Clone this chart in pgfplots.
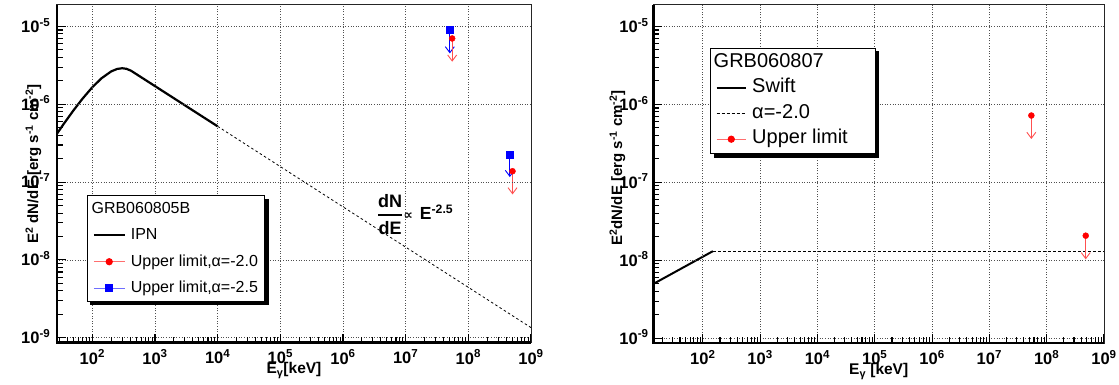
\documentclass[border=0pt]{standalone}
\usepackage{fontspec}
\setmainfont{Liberation Sans}
\newfontfamily\dejavu{DejaVu Sans}
\usepackage{pgfplots}
\pgfplotsset{compat=1.18}
\usetikzlibrary{arrows.meta,calc}

\definecolor{lred}{RGB}{255,80,80}
\definecolor{legred}{RGB}{255,110,110}
\definecolor{legblue}{RGB}{110,110,255}
\definecolor{gridc}{RGB}{80,80,80}

\tikzset{ularrow/.style={line width=0.9pt, -{Straight Barb[length=6pt,width=9pt]}}}

\begin{document}
\begin{tikzpicture}
\path[use as bounding box] (0,0) rectangle (1119pt,385pt);

% ---------------- left panel ----------------
\begin{axis}[name=L,
  scale only axis, xmode=log, ymode=log,
  ymin=8.7e-10, ymax=1.9e-5, xmin=27, xmax=1e9,
  at={(56.7pt,42.5pt)}, anchor=south west,
  width=474.3pt, height=337.8pt,
  axis on top,
  axis line style={line width=1pt, black!85},
  ticks=both,
  xmajorticks=true, ymajorticks=true, xminorticks=true, yminorticks=true,
  tick align=inside, xtick pos=bottom, ytick pos=left,
  major tick length=9pt, minor tick length=6pt,
  major tick style={black, solid, line width=1.1pt},
  minor tick style={black, solid, line width=1.1pt},
  grid=major,
  major grid style={gridc, line width=0.8pt, dash pattern=on 1pt off 1.6pt},
  xtick={1e2,1e3,1e4,1e5,1e6,1e7,1e8,1e9},
  minor xtick={30,40,50,60,70,80,90,200,300,400,500,600,700,800,900,
    2e3,3e3,4e3,5e3,6e3,7e3,8e3,9e3,2e4,3e4,4e4,5e4,6e4,7e4,8e4,9e4,
    2e5,3e5,4e5,5e5,6e5,7e5,8e5,9e5,2e6,3e6,4e6,5e6,6e6,7e6,8e6,9e6,
    2e7,3e7,4e7,5e7,6e7,7e7,8e7,9e7,2e8,3e8,4e8,5e8,6e8,7e8,8e8,9e8},
  xticklabels={10\textsuperscript{2},10\textsuperscript{3},10\textsuperscript{4},10\textsuperscript{5},10\textsuperscript{6},10\textsuperscript{7},10\textsuperscript{8},10\textsuperscript{9}},
  ytick={1e-9,1e-8,1e-7,1e-6,1e-5},
  minor ytick={2e-9,3e-9,4e-9,5e-9,6e-9,7e-9,8e-9,9e-9,2e-8,3e-8,4e-8,5e-8,6e-8,7e-8,8e-8,9e-8,
    2e-7,3e-7,4e-7,5e-7,6e-7,7e-7,8e-7,9e-7,2e-6,3e-6,4e-6,5e-6,6e-6,7e-6,8e-6,9e-6},
  yticklabels={10\textsuperscript{-9},10\textsuperscript{-8},10\textsuperscript{-7},10\textsuperscript{-6},10\textsuperscript{-5}},
  ticklabel style={font=\bfseries\fontsize{16.5}{17}\selectfont, inner sep=0pt},
  xticklabel style={anchor=north, yshift=-7pt},
  yticklabel style={anchor=base east, yshift=-5.9pt, xshift=-6.2pt},
  legend cell align=left,
  legend style={name=legL, at={(0.0637,0.4366)}, anchor=north west, draw=black, line width=0.9pt,
    fill=white, inner xsep=5.5pt, inner ysep=0pt, column sep=3.8pt, row sep=0pt,
    nodes={inner sep=1.5pt, text height=16.45pt, text depth=7.05pt}, font=\fontsize{16}{19}\selectfont},
  legend image code/.code={\path[draw=none,fill=none] (0pt,-11.75pt) rectangle (30.7pt,11.75pt);
    \draw[mark repeat=2,mark phase=2,#1] plot coordinates {(0pt,0pt) (15.35pt,0pt) (30.7pt,0pt)};},
]
% IPN spectrum
\addplot[black, line width=2.2pt, forget plot] coordinates {
  (27,4.14e-7) (35,5.60e-7) (50,8.34e-7) (70,1.184e-6) (100,1.654e-6)
  (140,2.155e-6) (200,2.642e-6) (250,2.845e-6) (300,2.90e-6) (350,2.854e-6)
  (415,2.694e-6) (1000,1.71e-6) (3000,9.69e-7) (10000,5.2e-7)};
% extrapolation
\addplot[black, line width=0.8pt, dash pattern=on 2.5pt off 2.5pt, forget plot] coordinates {
  (1e4,5.2e-7) (1e9,1.352e-9)};
% upper limits
\addplot[blue, ularrow, forget plot] coordinates {(5.07e7,9.0e-6) (5.07e7,4.5e-6)};
\addplot[lred, ularrow, forget plot] coordinates {(5.52e7,7.0e-6) (5.52e7,3.52e-6)};
\addplot[blue, ularrow, forget plot] coordinates {(4.59e8,2.24e-7) (4.59e8,1.16e-7)};
\addplot[lred, ularrow, forget plot] coordinates {(5.07e8,1.38e-7) (5.07e8,6.95e-8)};
\addplot[only marks, mark=square*, mark size=3.3pt, blue, forget plot] coordinates {(5.07e7,9.0e-6) (4.59e8,2.24e-7)};
\addplot[only marks, mark=*, mark size=3pt, red, forget plot] coordinates {(5.52e7,7.0e-6) (5.07e8,1.38e-7)};

\node[anchor=west, inner sep=0pt, font=\bfseries\fontsize{18}{20}\selectfont] at (axis cs:3.44e6,3.82e-8)
  {$\displaystyle{\mbox{dN}\above1.8pt\mbox{dE}}$\hspace{0.5pt}{\dejavu\bfseries\fontsize{13}{14}\selectfont ∝}\hspace{7pt}{\fontsize{17.5}{19}\selectfont E\textsuperscript{-2.5}}};

\addlegendimage{legend image code/.code={\path[draw=none,fill=none] (0pt,-11.75pt) rectangle (30.7pt,11.75pt);}}
\addlegendentry{\hspace*{-39.3pt}GRB060805B}
\addlegendimage{black, line width=2pt}
\addlegendentry{IPN}
\addlegendimage{legred, line width=1.2pt, mark=*, mark size=3pt, mark options={fill=red, draw=red}}
\addlegendentry{Upper limit,α=-2.0}
\addlegendimage{legblue, line width=1.2pt, mark=square*, mark size=3.3pt, mark options={fill=blue, draw=blue}}
\addlegendentry{Upper limit,α=-2.5}
\end{axis}
\draw[line width=2.4pt, black] (L.north west) -- (L.south west) -- (L.south east);
\fill[black] ($(legL.north east)+(0,-3.5pt)$) rectangle ($(legL.south east)+(3.5pt,-3.5pt)$);
\fill[black] ($(legL.south west)+(3.5pt,0)$) rectangle ($(legL.south east)+(3.5pt,-3.5pt)$);

% ---------------- right panel ----------------
\begin{axis}[name=R,
  scale only axis, xmode=log, ymode=log,
  ymin=8.7e-10, ymax=1.9e-5, xmin=13.7, xmax=1e9,
  at={(653.3pt,42pt)}, anchor=south west,
  width=450.7pt, height=338.3pt,
  axis on top,
  axis line style={line width=1pt, black!85},
  ticks=both,
  xmajorticks=true, ymajorticks=true, xminorticks=true, yminorticks=true,
  tick align=inside, xtick pos=bottom, ytick pos=left,
  major tick length=9pt, minor tick length=6pt,
  major tick style={black, solid, line width=1.1pt},
  minor tick style={black, solid, line width=1.1pt},
  grid=major,
  major grid style={gridc, line width=0.8pt, dash pattern=on 1pt off 1.6pt},
  xtick={1e2,1e3,1e4,1e5,1e6,1e7,1e8,1e9},
  minor xtick={20,30,40,50,60,70,80,90,200,300,400,500,600,700,800,900,
    2e3,3e3,4e3,5e3,6e3,7e3,8e3,9e3,2e4,3e4,4e4,5e4,6e4,7e4,8e4,9e4,
    2e5,3e5,4e5,5e5,6e5,7e5,8e5,9e5,2e6,3e6,4e6,5e6,6e6,7e6,8e6,9e6,
    2e7,3e7,4e7,5e7,6e7,7e7,8e7,9e7,2e8,3e8,4e8,5e8,6e8,7e8,8e8,9e8},
  xticklabels={10\textsuperscript{2},10\textsuperscript{3},10\textsuperscript{4},10\textsuperscript{5},10\textsuperscript{6},10\textsuperscript{7},10\textsuperscript{8},10\textsuperscript{9}},
  ytick={1e-9,1e-8,1e-7,1e-6,1e-5},
  minor ytick={2e-9,3e-9,4e-9,5e-9,6e-9,7e-9,8e-9,9e-9,2e-8,3e-8,4e-8,5e-8,6e-8,7e-8,8e-8,9e-8,
    2e-7,3e-7,4e-7,5e-7,6e-7,7e-7,8e-7,9e-7,2e-6,3e-6,4e-6,5e-6,6e-6,7e-6,8e-6,9e-6},
  yticklabels={10\textsuperscript{-9},10\textsuperscript{-8},10\textsuperscript{-7},10\textsuperscript{-6},10\textsuperscript{-5}},
  ticklabel style={font=\bfseries\fontsize{16.5}{17}\selectfont, inner sep=0pt},
  xticklabel style={anchor=north, yshift=-7pt},
  yticklabel style={anchor=base east, yshift=-5.9pt, xshift=-4.5pt},
  legend cell align=left,
  legend style={name=legR, at={(0.1262,0.8729)}, anchor=north west, draw=black, line width=0.9pt,
    fill=white, inner xsep=5pt, inner ysep=1.8pt, column sep=4.3pt, row sep=0pt,
    nodes={inner sep=1pt, text height=16.45pt, text depth=7.05pt}, font=\fontsize{20}{23}\selectfont},
  legend image code/.code={\path[draw=none,fill=none] (0pt,-11.75pt) rectangle (29.3pt,11.75pt);
    \draw[mark repeat=2,mark phase=2,#1] plot coordinates {(0pt,0pt) (14.65pt,0pt) (29.3pt,0pt)};},
]
\addplot[black, line width=2pt, forget plot] coordinates {(13.7,4.98e-9) (150,1.31e-8)};
\addplot[black, line width=1.1pt, dash pattern=on 3pt off 2pt, forget plot] coordinates {(150,1.31e-8) (1e9,1.31e-8)};
\addplot[lred, ularrow, forget plot] coordinates {(5.4e7,7.2e-7) (5.4e7,3.6e-7)};
\addplot[lred, ularrow, forget plot] coordinates {(4.8e8,2.07e-8) (4.8e8,1.03e-8)};
\addplot[only marks, mark=*, mark size=3pt, red, forget plot] coordinates {(5.4e7,7.2e-7) (4.8e8,2.07e-8)};

\addlegendimage{legend image code/.code={\path[draw=none,fill=none] (0pt,-11.75pt) rectangle (29.3pt,11.75pt);}}
\addlegendentry{\hspace*{-38.5pt}GRB060807}
\addlegendimage{black, line width=2pt}
\addlegendentry{Swift}
\addlegendimage{black, line width=1.1pt, dash pattern=on 3pt off 2pt}
\addlegendentry{α=-2.0}
\addlegendimage{legred, line width=1.2pt, mark=*, mark size=3pt, mark options={fill=red, draw=red}}
\addlegendentry{\makebox[116.8pt][l]{Upper limit}}
\end{axis}
\draw[line width=2.4pt, black] (R.north west) -- (R.south west) -- (R.south east);
\fill[black] ($(legR.north east)+(0,-3.5pt)$) rectangle ($(legR.south east)+(3.5pt,-3.5pt)$);
\fill[black] ($(legR.south west)+(3.5pt,0)$) rectangle ($(legR.south east)+(3.5pt,-3.5pt)$);

% ---------------- axis titles ----------------
\node[rotate=90, anchor=base, inner sep=0pt, font=\bfseries\fontsize{15}{16}\selectfont] at (38pt,221pt)
  {E\textsuperscript{2} dN/dE [erg s\textsuperscript{-1} cm\textsuperscript{-2}]};
\node[rotate=90, anchor=base, inner sep=0pt, font=\bfseries\fontsize{15}{16}\selectfont] at (622pt,217pt)
  {E\textsuperscript{2}dN/dE [erg s\textsuperscript{-1} cm\textsuperscript{-2}]};
\node[anchor=base, inner sep=0pt, font=\bfseries\fontsize{15.5}{16}\selectfont] at (294pt,11pt)
  {E\textsubscript{γ}[keV]};
\node[anchor=base, inner sep=0pt, font=\bfseries\fontsize{15.5}{16}\selectfont] at (878.7pt,10pt)
  {E\textsubscript{γ} [keV]};
\end{tikzpicture}
\end{document}
